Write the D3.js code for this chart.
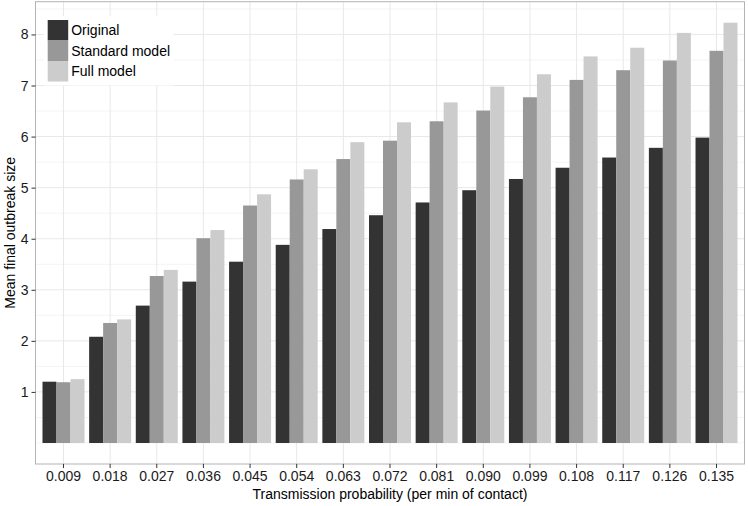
<!DOCTYPE html>
<html>
<head>
<meta charset="utf-8">
<script src="https://cdn.jsdelivr.net/npm/d3@7"></script>
<style>
  html, body { margin: 0; padding: 0; background: #fff; }
  svg { display: block; }
</style>
</head>
<body>
<div id="chart"></div>
<script>
// grouped bar chart: mean final outbreak size vs transmission probability

const CATEGORIES = ['0.009', '0.018', '0.027', '0.036', '0.045', '0.054', '0.063', '0.072',
                    '0.081', '0.090', '0.099', '0.108', '0.117', '0.126', '0.135'];
const SERIES = ['Original', 'Standard model', 'Full model'];
const ORIGINAL = [1.20, 2.08, 2.69, 3.16, 3.55, 3.88, 4.19, 4.46, 4.71, 4.95, 5.17, 5.39, 5.59, 5.78, 5.98];
const STANDARD = [1.19, 2.35, 3.27, 4.01, 4.65, 5.16, 5.56, 5.92, 6.30, 6.51, 6.77, 7.11, 7.30, 7.49, 7.68];
const FULL     = [1.25, 2.42, 3.39, 4.17, 4.87, 5.36, 5.89, 6.28, 6.67, 6.98, 7.22, 7.57, 7.74, 8.03, 8.23];
const Y_TICKS = [1, 2, 3, 4, 5, 6, 7, 8];
const COLORS = ['#333333', '#989898', '#cccccc'];

(function () {
    const width = 748, height = 506;
    const panel = { left: 35.5, right: 744.5, top: 1.7, bottom: 464 };
    const font = '"Liberation Sans", Arial, Helvetica, sans-serif';

    const values = [ORIGINAL, STANDARD, FULL];
    const rows = CATEGORIES.map((c, i) => ({
        cat: c,
        vals: SERIES.map((s, j) => ({ series: s, idx: j, v: values[j][i] }))
    }));

    const svg = d3.select('#chart').append('svg')
        .attr('width', width).attr('height', height);

    svg.append('rect').attr('width', width).attr('height', height).attr('fill', '#fff');

    // ggplot-style expansion: 5% on the continuous axis, 0.6 units on the discrete one
    const maxV = d3.max(values.flat());
    const pad = maxV * 0.05;
    const y = d3.scaleLinear().domain([0 - pad, maxV + pad]).range([panel.bottom, panel.top]);
    const x = d3.scaleBand().domain(CATEGORIES).range([panel.left, panel.right])
        .paddingInner(0.1).paddingOuter(0.15);
    const xSub = d3.scaleBand().domain(d3.range(SERIES.length)).range([0, x.bandwidth()]);

    // Grid
    const minor = d3.range(0, 9, 0.5).filter(v => v % 1 !== 0 || v === 0)
        .filter(v => v >= y.domain()[0] && v <= y.domain()[1]);
    svg.selectAll('.mgrid').data(minor).enter().append('line')
        .attr('x1', panel.left).attr('x2', panel.right)
        .attr('y1', d => y(d)).attr('y2', d => y(d))
        .attr('stroke', '#f4f4f4').attr('stroke-width', 1);
    svg.selectAll('.hgrid').data(Y_TICKS).enter().append('line')
        .attr('x1', panel.left).attr('x2', panel.right)
        .attr('y1', d => y(d)).attr('y2', d => y(d))
        .attr('stroke', '#e8e8e8').attr('stroke-width', 1);
    svg.selectAll('.vgrid').data(CATEGORIES).enter().append('line')
        .attr('x1', d => x(d) + x.bandwidth() / 2).attr('x2', d => x(d) + x.bandwidth() / 2)
        .attr('y1', panel.top).attr('y2', panel.bottom)
        .attr('stroke', '#e8e8e8').attr('stroke-width', 1);

    // Bars
    const groups = svg.selectAll('.grp').data(rows).enter().append('g')
        .attr('transform', d => `translate(${x(d.cat)},0)`);
    groups.selectAll('rect').data(d => d.vals).enter().append('rect')
        .attr('x', d => xSub(d.idx))
        .attr('width', xSub.bandwidth())
        .attr('y', d => y(d.v))
        .attr('height', d => y(0) - y(d.v))
        .attr('fill', d => COLORS[d.idx]);

    // Panel border
    svg.append('rect')
        .attr('x', panel.left).attr('y', panel.top)
        .attr('width', panel.right - panel.left).attr('height', panel.bottom - panel.top)
        .attr('fill', 'none').attr('stroke', '#b3b3b3').attr('stroke-width', 1);

    // X axis
    const xAxis = svg.append('g').attr('transform', `translate(0,${panel.bottom})`)
        .call(d3.axisBottom(x).tickSize(4).tickPadding(3));
    xAxis.select('.domain').remove();
    xAxis.selectAll('line').attr('stroke', '#333');
    xAxis.selectAll('text').attr('fill', '#1a1a1a').attr('font-size', '14px')
        .attr('font-family', font);

    // Y axis
    const yAxis = svg.append('g').attr('transform', `translate(${panel.left},0)`)
        .call(d3.axisLeft(y).tickValues(Y_TICKS).tickSize(4).tickPadding(3));
    yAxis.select('.domain').remove();
    yAxis.selectAll('line').attr('stroke', '#333');
    yAxis.selectAll('text').attr('fill', '#1a1a1a').attr('font-size', '14px')
        .attr('font-family', font);

    // Axis titles
    svg.append('text')
        .attr('x', (panel.left + panel.right) / 2).attr('y', 499)
        .attr('text-anchor', 'middle').attr('fill', '#000')
        .attr('font-size', '14px').attr('font-family', font)
        .text('Transmission probability (per min of contact)');

    svg.append('text')
        .attr('transform', 'rotate(-90)')
        .attr('x', -(panel.top + panel.bottom) / 2).attr('y', 15)
        .attr('text-anchor', 'middle').attr('fill', '#000')
        .attr('font-size', '14px').attr('font-family', font)
        .text('Mean final outbreak size');

    // Legend (inside the panel, top-left)
    const keySize = 20.5;
    const legend = svg.append('g').attr('transform', 'translate(47.7,20)');
    legend.append('rect').attr('x', -4).attr('y', -4)
        .attr('width', 130).attr('height', keySize * 3 + 8).attr('fill', '#fff');
    SERIES.forEach((s, i) => {
        legend.append('rect').attr('x', 0).attr('y', i * keySize)
            .attr('width', keySize).attr('height', keySize).attr('fill', COLORS[i]);
        legend.append('text').attr('x', keySize + 3).attr('y', i * keySize + keySize / 2)
            .attr('dy', '0.35em')
            .attr('font-size', '14px').attr('font-family', font)
            .attr('fill', '#000').text(s);
    });
})();
</script>
</body>
</html>
